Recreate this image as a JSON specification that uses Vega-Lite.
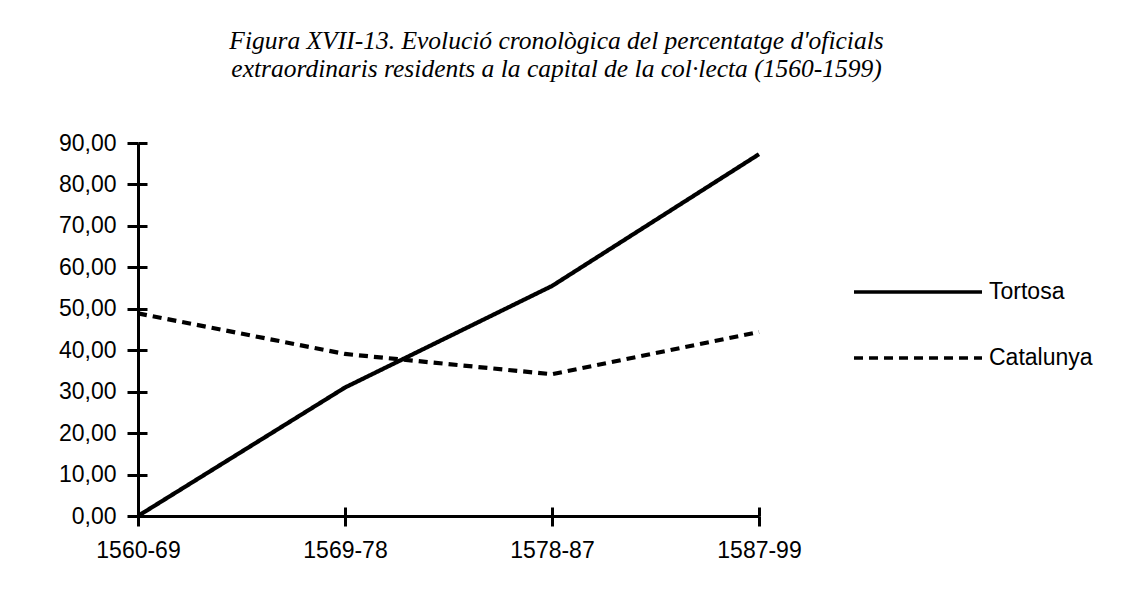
{
  "$schema": "https://vega.github.io/schema/vega-lite/v6.json",
  "width": 621,
  "height": 373,
  "autosize": {"type": "none"},
  "padding": {"left": 138, "top": 143, "right": 376, "bottom": 74},
  "background": "white",
  "config": {
    "view": {"stroke": null},
    "font": "Liberation Sans",
    "locale": {"number": {"decimal": ",", "thousands": ".", "grouping": [3], "currency": ["", " €"]}}
  },
  "title": {
    "text": ["Figura XVII-13. Evolució cronològica del percentatge d'oficials", "extraordinaris residents a la capital de la col·lecta (1560-1599)"],
    "font": "Liberation Serif",
    "fontStyle": "italic",
    "fontWeight": "normal",
    "fontSize": 25.5,
    "lineHeight": 28,
    "color": "black",
    "anchor": "middle",
    "dx": 108,
    "offset": 50
  },
  "data": {
    "values": [
      {"periode": "1560-69", "serie": "Tortosa", "valor": 0},
      {"periode": "1569-78", "serie": "Tortosa", "valor": 31.0},
      {"periode": "1578-87", "serie": "Tortosa", "valor": 55.5},
      {"periode": "1587-99", "serie": "Tortosa", "valor": 87.3},
      {"periode": "1560-69", "serie": "Catalunya", "valor": 48.9},
      {"periode": "1569-78", "serie": "Catalunya", "valor": 39.1},
      {"periode": "1578-87", "serie": "Catalunya", "valor": 34.2},
      {"periode": "1587-99", "serie": "Catalunya", "valor": 44.4}
    ]
  },
  "resolve": {"axis": {"x": "independent", "y": "independent"}},
  "layer": [
    {
      "mark": {"type": "line", "color": "black", "strokeWidth": 4.2},
      "encoding": {
        "x": {
          "field": "periode", "type": "ordinal", "sort": null,
          "scale": {"type": "point", "padding": 0},
          "axis": {"orient": "bottom", "title": null, "labelAngle": 0, "grid": false,
            "domainColor": "black", "domainWidth": 3, "tickColor": "black", "tickWidth": 3, "tickSize": 10,
            "labelFontSize": 23, "labelColor": "black", "labelPadding": 13, "labelFont": "Liberation Sans"}
        },
        "y": {
          "field": "valor", "type": "quantitative",
          "scale": {"domain": [0, 90], "nice": false, "zero": true},
          "axis": {"orient": "left", "title": null, "grid": false, "values": [0, 10, 20, 30, 40, 50, 60, 70, 80, 90],
            "format": ".2f", "domainColor": "black", "domainWidth": 3, "tickColor": "black", "tickWidth": 3, "tickSize": 11,
            "labelFontSize": 23, "labelColor": "black", "labelPadding": 11, "labelFont": "Liberation Sans"}
        },
        "strokeDash": {
          "field": "serie", "type": "nominal",
          "scale": {"domain": ["Tortosa", "Catalunya"], "range": [[1, 0], [9, 6]]},
          "legend": {"orient": "none", "legendX": 714, "legendY": 137, "title": null, "padding": 0,
            "symbolType": "stroke", "symbolSize": 16384, "symbolStrokeWidth": 3.5, "symbolStrokeColor": "black",
            "clipHeight": 24, "rowPadding": 42, "labelFontSize": 23, "labelColor": "black", "labelOffset": 5, "labelFont": "Liberation Sans"}
        }
      }
    },
    {
      "mark": {"type": "line", "opacity": 0},
      "encoding": {
        "x": {
          "field": "periode", "type": "ordinal", "sort": null,
          "axis": {"orient": "bottom", "title": null, "labels": false, "domain": false, "grid": false,
            "tickColor": "black", "tickWidth": 3, "tickSize": -9}
        },
        "y": {
          "field": "valor", "type": "quantitative",
          "axis": {"orient": "left", "title": null, "labels": false, "domain": false, "grid": false,
            "values": [0, 10, 20, 30, 40, 50, 60, 70, 80, 90],
            "tickColor": "black", "tickWidth": 3, "tickSize": -9}
        },
        "detail": {"field": "serie"}
      }
    }
  ]
}
